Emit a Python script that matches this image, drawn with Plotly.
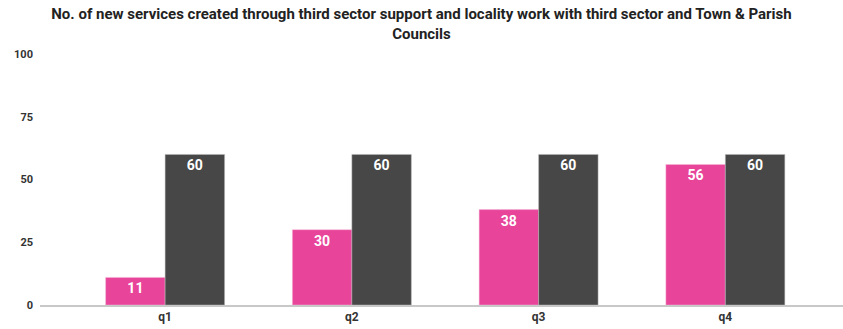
import plotly.graph_objects as go

categories = ["q1", "q2", "q3", "q4"]
actual = [11, 30, 38, 56]
target = [60, 60, 60, 60]

fig = go.Figure()
fig.add_trace(go.Bar(x=categories, y=actual, name="Actual", marker=dict(color="#E8449A", line=dict(color="#f4b8d6", width=0.5)),
                     text=actual, textposition="inside", insidetextanchor="end",
                     textfont=dict(color="white", size=14, family="Roboto", weight="bold")))
fig.add_trace(go.Bar(x=categories, y=target, name="Target", marker=dict(color="#474747", line=dict(color="#bbbbbb", width=0.5)),
                     text=target, textposition="inside", insidetextanchor="end",
                     textfont=dict(color="white", size=14, family="Roboto", weight="bold")))

fig.update_layout(
    width=843, height=329,
    margin=dict(l=40, r=0, t=54, b=24),
    paper_bgcolor="white", plot_bgcolor="white",
    barmode="group", bargap=0.363, bargroupgap=0.0,
    showlegend=False,
    title=dict(text="No. of new services created through third sector support and locality work with third sector and Town & Parish<br>Councils",
               x=0.5, xanchor="center", y=1 - 19 / 329, yanchor="middle",
               font=dict(family="Roboto", size=15, color="#222", weight="bold")),
    font=dict(family="Roboto", size=11, color="#333"),
    uniformtext=dict(minsize=10, mode="show"),
)
fig.update_xaxes(range=[-0.67, 3.63], showline=True, linecolor="#c8c8c8", linewidth=2,
                 ticks="", tickfont=dict(family="Roboto", size=12, color="#333", weight="bold"), showgrid=False)
fig.update_yaxes(range=[0, 100], tickvals=[0, 25, 50, 75, 100], showgrid=False, zeroline=False,
                 tickfont=dict(family="Roboto", size=11, color="#333", weight="bold"), ticklabelstandoff=6)

fig.write_html("out.html")
